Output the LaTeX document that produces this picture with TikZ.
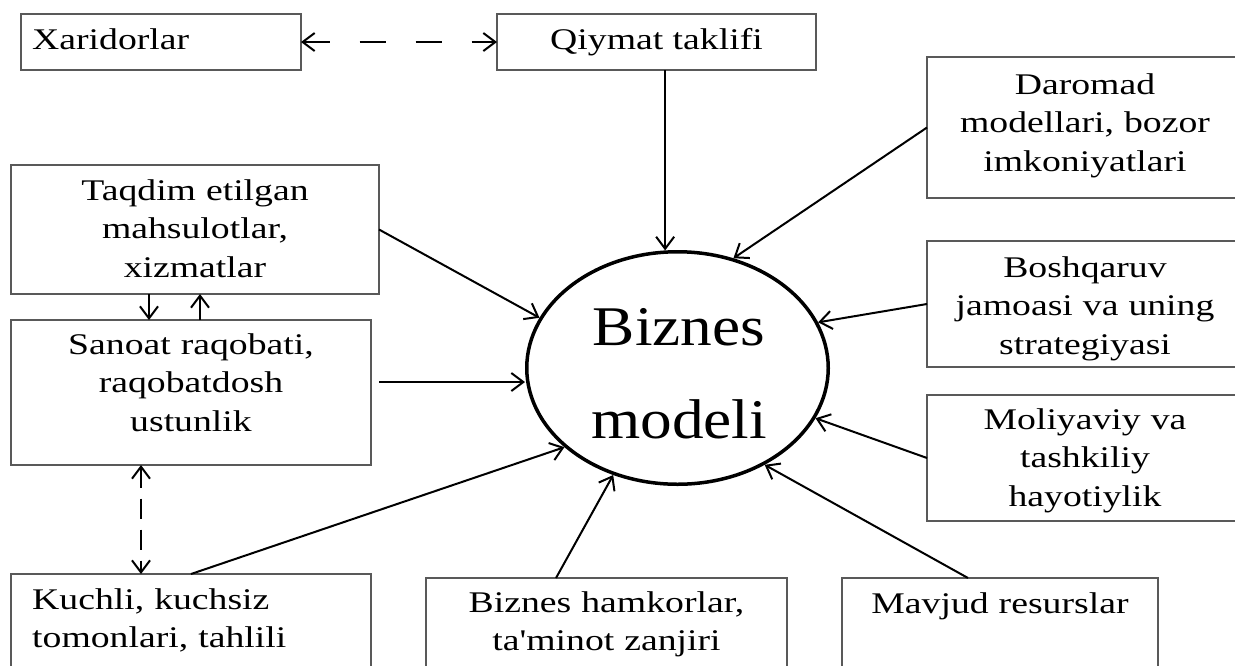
\documentclass[tikz,border=0pt]{standalone}
\usepackage{fontspec}
\setmainfont{Liberation Serif}[FakeStretch=1.257, Ligatures=TeXOff]
\newfontfamily\bigserif{Liberation Serif}[FakeStretch=1.13, Ligatures=TeXOff]
\usetikzlibrary{arrows.meta,calc,shapes.geometric}

\begin{document}
\begin{tikzpicture}[x=1pt,y=-1pt,
  box/.style={draw=black!65, line width=1.3pt, rectangle, inner sep=0pt, outer sep=0pt},
  lbl/.style={inner sep=0pt, font=\fontsize{30pt}{38.5pt}\selectfont},
  clbl/.style={lbl, text width=330pt, align=center, anchor=base},
  llbl/.style={lbl, text width=330pt, align=left, anchor=base west},
  barb/.tip={Straight Barb[length=12pt,width=18pt]},
  link/.style={line width=2pt, -barb},
  dlink/.style={line width=2pt, barb-barb, dash pattern=on 26pt off 30pt},
  vdlink/.style={line width=2pt, barb-barb, dash pattern=on 20pt off 11pt},
]
\clip (0,0) rectangle (1235,665);
\fill[white] (0,0) rectangle (1235,665);

% central ellipse
\node[draw, ellipse, line width=3.5pt, minimum width=301.5pt, minimum height=232.5pt,
      inner sep=0pt] (ell) at (677.5,368) {};
\node[inner sep=0pt, font=\bigserif\fontsize{56pt}{93pt}\selectfont, text width=300pt,
      align=center, anchor=base] (t-ell) at (679,345) {Biznes\\modeli};

% boxes
\node[box, minimum width=280pt, minimum height=56pt]  (xa)  at (161,42)     {};
\node[box, minimum width=319pt, minimum height=56pt]  (qiy) at (656.5,42)   {};
\node[box, minimum width=316pt, minimum height=141pt] (dar) at (1085,127.5) {};
\node[box, minimum width=316pt, minimum height=126pt] (bq)  at (1085,304)   {};
\node[box, minimum width=316pt, minimum height=126pt] (ml)  at (1085,458)   {};
\node[box, minimum width=368pt, minimum height=129pt] (tq)  at (195,229.5)  {};
\node[box, minimum width=360pt, minimum height=145pt] (sn)  at (191,392.5)  {};
\node[box, minimum width=360pt, minimum height=116pt] (ku)  at (191,632)    {};
\node[box, minimum width=361pt, minimum height=112pt] (bh)  at (606.5,634)  {};
\node[box, minimum width=316pt, minimum height=112pt] (mr)  at (1000,634)   {};

% box texts
\node[lbl, anchor=base west] (t-xa) at (32,49) {Xaridorlar};
\node[lbl, anchor=base] (t-qiy) at (656.5,49) {Qiymat taklifi};
\node[clbl] (t-dar) at (1085,94)  {Daromad\\modellari, bozor\\imkoniyatlari};
\node[clbl] (t-bq)  at (1085,277) {Boshqaruv\\jamoasi va uning\\strategiyasi};
\node[clbl] (t-ml)  at (1085,429) {Moliyaviy va\\tashkiliy\\hayotiylik};
\node[clbl] (t-tq)  at (195,200)  {Taqdim etilgan\\mahsulotlar,\\xizmatlar};
\node[clbl] (t-sn)  at (191,354)  {Sanoat raqobati,\\raqobatdosh\\ustunlik};
\node[llbl] (t-ku)  at (32,609)   {Kuchli, kuchsiz\\tomonlari, tahlili};
\node[clbl] (t-bh)  at (606.5,612) {Biznes hamkorlar,\\ta'minot zanjiri};
\node[clbl] (t-mr)  at (1000,613) {Mavjud resurslar};

% helper points
\coordinate (qt) at (ell.96);
\coordinate (sa) at ($(sn.east)+(8,-10.5)$);
\coordinate (d1) at ($(tq.south)+(-46,0)$);
\coordinate (u1) at ($(sn.north)+(9,0)$);
\coordinate (v1) at ($(sn.south)+(-50,0)$);
\coordinate (bhs) at ($(bh.north)+(-50.5,0)$);
\coordinate (mrs) at ($(mr.north)+(-32,0)$);

% connectors
\draw[dlink] (xa.east) -- (qiy.west);
\draw[link] (qt |- qiy.south) -- (qt);
\draw[link] (dar.west) -- (ell.63);
\draw[link] (bq.west) -- (ell.18);
\draw[link] (ml.west) -- (ell.340);
\draw[link] (tq.east) -- (ell.160);
\draw[link] (sa) -- (sa -| ell.west);
\draw[link] (ku.north) -- (ell.215);
\draw[link] (bhs) -- (ell.239);
\draw[link] (mrs) -- (ell.312);
\draw[link] (d1) -- (d1 |- sn.north);
\draw[link] (u1) -- (u1 |- tq.south);
\draw[vdlink] (v1) -- (v1 |- ku.north);
\end{tikzpicture}
\end{document}
